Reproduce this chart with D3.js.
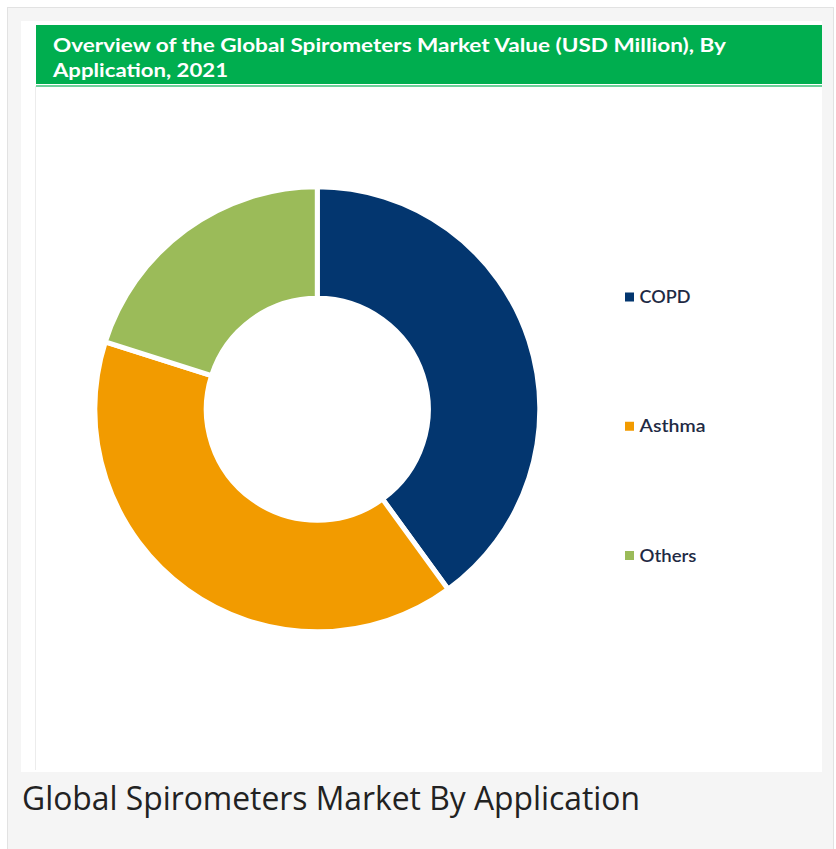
<!DOCTYPE html>
<html>
<head>
<meta charset="utf-8">
<script src="https://cdn.jsdelivr.net/npm/d3@7"></script>
<style>
  html, body { margin: 0; padding: 0; background: #ffffff; }
  svg { display: block; }
</style>
</head>
<body>
<div id="chart"></div>
<script>
// ---- data ----
const categories = ["COPD", "Asthma", "Others"];
const values = [40.0, 39.9, 20.1];
const colors = ["#03366F", "#F29B00", "#9BBB59"];
const titleLines = ["Overview of the Global Spirometers Market Value (USD Million), By", "Application, 2021"];
const caption = "Global Spirometers Market By Application";

const W = 836, H = 849;
const svg = d3.select("#chart").append("svg")
  .attr("width", W).attr("height", H);

// outer frame
svg.append("rect").attr("x", 0).attr("y", 0).attr("width", W).attr("height", H).attr("fill", "#ffffff");
svg.append("rect").attr("x", 7.5).attr("y", 7.5).attr("width", 826).attr("height", 850)
  .attr("fill", "#f5f5f5").attr("stroke", "#e2e2e2").attr("stroke-width", 1);
// white image panel
svg.append("rect").attr("x", 21).attr("y", 21).attr("width", 801).attr("height", 751).attr("fill", "#ffffff");
// faint left line of chart area
svg.append("line").attr("x1", 35.5).attr("x2", 35.5).attr("y1", 86).attr("y2", 770)
  .attr("stroke", "#ececec").attr("stroke-width", 1);

// title bar
svg.append("rect").attr("x", 36).attr("y", 25).attr("width", 786).attr("height", 59).attr("fill", "#00AE4F");
svg.append("line").attr("x1", 36).attr("x2", 822).attr("y1", 86).attr("y2", 86)
  .attr("stroke", "#3cc279").attr("stroke-width", 1.5);

const titleWidths = [673, 175];
svg.selectAll("text.title").data(titleLines).join("text")
  .attr("class", "title")
  .attr("x", 53)
  .attr("y", (d, i) => 51.5 + i * 25)
  .attr("font-family", "Lato, 'DejaVu Sans', sans-serif")
  .attr("font-weight", "bold")
  .attr("font-size", 19.5)
  .attr("fill", "#ffffff")
  .attr("textLength", (d, i) => titleWidths[i])
  .attr("lengthAdjust", "spacingAndGlyphs")
  .text(d => d);

// donut
const cx = 317.3, cy = 409.3;
const pie = d3.pie().sort(null).value(d => d.value);
const data = categories.map((c, i) => ({ name: c, value: values[i], color: colors[i] }));
const arc = d3.arc().innerRadius(111).outerRadius(222.5);
const g = svg.append("g").attr("transform", `translate(${cx},${cy})`);
g.selectAll("path").data(pie(data)).join("path")
  .attr("d", arc)
  .attr("fill", d => d.data.color)
  .attr("stroke", "#ffffff")
  .attr("stroke-width", 5)
  .attr("stroke-linejoin", "miter");

// legend
const legendY = d3.scalePoint().domain(categories).range([297, 555.5]);
const legendWidths = [51, 66, 57];
const lg = svg.append("g");
const items = lg.selectAll("g").data(data).join("g")
  .attr("transform", d => `translate(625,${legendY(d.name)})`);
items.append("rect").attr("x", 0).attr("y", -4.5).attr("width", 9).attr("height", 9)
  .attr("fill", d => d.color);
items.append("text").attr("x", 14.5).attr("y", 6)
  .attr("font-family", "Lato, 'DejaVu Sans', sans-serif")
  .attr("font-weight", 600)
  .attr("font-size", 17)
  .attr("fill", "#1f2a44")
  .attr("textLength", (d, i) => legendWidths[i])
  .attr("lengthAdjust", "spacingAndGlyphs")
  .text(d => d.name);

// caption
svg.append("text").attr("x", 22).attr("y", 810)
  .attr("font-family", "'Open Sans', sans-serif")
  .attr("font-size", 32)
  .attr("fill", "#222222")
  .attr("textLength", 618)
  .attr("lengthAdjust", "spacingAndGlyphs")
  .text(caption);
</script>
</body>
</html>
